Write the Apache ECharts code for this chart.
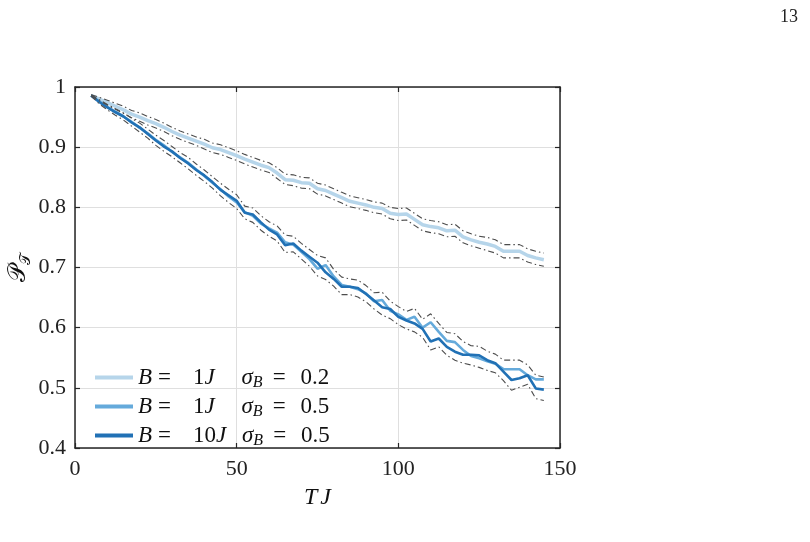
<!DOCTYPE html>
<html lang="en">
<head>
    <meta charset="UTF-8">
    <title>P_T vs TJ</title>
    <script src="https://cdn.jsdelivr.net/npm/echarts@6/dist/echarts.min.js"></script>
    <style>
        body {
            margin: 0;
            background-color: #ffffff;
        }
        #chart {
            width: 810px;
            height: 542px;
        }
    </style>
</head>
<body>
    <div id="chart"></div>

    <script>
        // TJ values (x axis)
        const tj = [5, 7.5, 10, 12.5, 15, 17.5, 20, 22.5, 25, 27.5, 30, 32.5, 35, 37.5, 40, 42.5, 45, 47.5,
            50, 52.5, 55, 57.5, 60, 62.5, 65, 67.5, 70, 72.5, 75, 77.5, 80, 82.5, 85, 87.5, 90, 92.5, 95, 97.5,
            100, 102.5, 105, 107.5, 110, 112.5, 115, 117.5, 120, 122.5, 125, 127.5, 130, 132.5, 135, 137.5,
            140, 142.5, 145];

        // B = 1J, sigma_B = 0.2
        const b1s02 = [0.986, 0.980, 0.974, 0.968, 0.962, 0.955, 0.950, 0.944, 0.939, 0.933, 0.926, 0.920, 0.915, 0.910,
            0.905, 0.899, 0.896, 0.891, 0.886, 0.880, 0.875, 0.870, 0.866, 0.857, 0.846, 0.845, 0.841, 0.840,
            0.831, 0.828, 0.822, 0.816, 0.810, 0.807, 0.804, 0.800, 0.798, 0.790, 0.788, 0.789, 0.780, 0.771,
            0.768, 0.766, 0.761, 0.762, 0.751, 0.746, 0.742, 0.739, 0.735, 0.727, 0.727, 0.727, 0.720, 0.716, 0.713];
        const b1s02Hi = [0.987, 0.983, 0.978, 0.973, 0.968, 0.961, 0.957, 0.951, 0.946, 0.940, 0.933, 0.927, 0.922, 0.917,
            0.913, 0.907, 0.904, 0.899, 0.894, 0.888, 0.883, 0.878, 0.874, 0.866, 0.855, 0.854, 0.850, 0.849,
            0.840, 0.837, 0.831, 0.825, 0.819, 0.816, 0.813, 0.809, 0.807, 0.800, 0.798, 0.799, 0.790, 0.781,
            0.778, 0.776, 0.771, 0.772, 0.761, 0.756, 0.752, 0.750, 0.746, 0.738, 0.738, 0.738, 0.731, 0.727, 0.724];
        const b1s02Lo = [0.985, 0.977, 0.970, 0.963, 0.956, 0.949, 0.943, 0.937, 0.932, 0.926, 0.919, 0.913, 0.908, 0.903,
            0.897, 0.891, 0.888, 0.883, 0.878, 0.872, 0.867, 0.862, 0.858, 0.848, 0.838, 0.836, 0.832, 0.831,
            0.822, 0.819, 0.813, 0.807, 0.801, 0.798, 0.795, 0.791, 0.789, 0.781, 0.778, 0.779, 0.770, 0.761,
            0.758, 0.756, 0.751, 0.752, 0.741, 0.736, 0.732, 0.728, 0.724, 0.716, 0.716, 0.716, 0.709, 0.705, 0.702];

        // B = 1J, sigma_B = 0.5
        const b1s05 = [0.986, 0.976, 0.967, 0.959, 0.951, 0.942, 0.932, 0.923, 0.912, 0.903, 0.892, 0.883, 0.874, 0.863,
            0.852, 0.841, 0.830, 0.818, 0.808, 0.792, 0.786, 0.773, 0.765, 0.758, 0.742, 0.738, 0.726, 0.714,
            0.698, 0.704, 0.685, 0.671, 0.668, 0.664, 0.657, 0.644, 0.646, 0.628, 0.622, 0.613, 0.618, 0.600,
            0.609, 0.593, 0.578, 0.576, 0.563, 0.553, 0.549, 0.544, 0.540, 0.531, 0.531, 0.531, 0.521, 0.514, 0.514];

        // B = 10J, sigma_B = 0.5
        const b10s05 = [0.986, 0.975, 0.966, 0.958, 0.951, 0.941, 0.933, 0.922, 0.911, 0.901, 0.893, 0.882, 0.873, 0.862,
            0.853, 0.842, 0.829, 0.820, 0.811, 0.791, 0.788, 0.775, 0.763, 0.755, 0.737, 0.740, 0.728, 0.718,
            0.708, 0.692, 0.681, 0.668, 0.668, 0.666, 0.656, 0.645, 0.634, 0.631, 0.618, 0.612, 0.607, 0.598,
            0.577, 0.582, 0.568, 0.560, 0.555, 0.555, 0.554, 0.546, 0.541, 0.527, 0.513, 0.516, 0.521, 0.499, 0.497];

        // dash-dot bounds around the sigma_B = 0.5 curves
        const s05Hi = [0.987, 0.979, 0.971, 0.964, 0.957, 0.948, 0.940, 0.930, 0.920, 0.911, 0.901, 0.891, 0.883, 0.872,
            0.862, 0.851, 0.840, 0.830, 0.821, 0.802, 0.799, 0.786, 0.776, 0.769, 0.754, 0.752, 0.740, 0.730,
            0.720, 0.716, 0.697, 0.684, 0.681, 0.679, 0.670, 0.658, 0.659, 0.644, 0.635, 0.627, 0.632, 0.614,
            0.623, 0.607, 0.592, 0.590, 0.577, 0.570, 0.569, 0.561, 0.556, 0.546, 0.546, 0.546, 0.538, 0.521, 0.518];
        const s05Lo = [0.985, 0.972, 0.962, 0.953, 0.945, 0.935, 0.925, 0.915, 0.903, 0.893, 0.884, 0.874, 0.864, 0.853,
            0.843, 0.832, 0.819, 0.808, 0.798, 0.781, 0.775, 0.762, 0.752, 0.744, 0.725, 0.726, 0.714, 0.702,
            0.686, 0.680, 0.669, 0.655, 0.655, 0.651, 0.643, 0.631, 0.621, 0.615, 0.605, 0.598, 0.593, 0.584,
            0.563, 0.568, 0.554, 0.546, 0.541, 0.538, 0.534, 0.529, 0.525, 0.512, 0.496, 0.501, 0.506, 0.482, 0.479];

        // legend text parts
        const legendB = ['1', '1', '10'];
        const legendSigma = ['0.2', '0.5', '0.5'];
        const seriesNames = ['B1s02', 'B1s05', 'B10s05'];

        const serif = 'Liberation Serif';
        const axisColor = '#262626';

        function pairs(ys) {
            return tj.map((x, i) => [x, ys[i]]);
        }

        function meanLine(name, ys, color, width, z) {
            return {
                name: name,
                type: 'line',
                data: pairs(ys),
                symbol: 'none',
                z: z,
                lineStyle: { color: color, width: width },
                itemStyle: { color: color }
            };
        }

        function boundLine(ys) {
            return {
                type: 'line',
                data: pairs(ys),
                symbol: 'none',
                silent: true,
                z: 5,
                lineStyle: { color: '#4d4d4d', width: 1.1, type: [6, 3, 1.5, 3] }
            };
        }

        var myChart = echarts.init(document.getElementById('chart'), null, { renderer: 'canvas' });

        const option = {
            backgroundColor: '#ffffff',
            animation: false,
            title: {
                text: '13',
                right: 7,
                top: 3,
                textStyle: { fontFamily: serif, fontWeight: 'normal', fontSize: 18, color: '#222' }
            },
            grid: {
                left: 75,
                right: 250,
                top: 87,
                bottom: 94,
                containLabel: false,
                outerBoundsMode: 'none'
            },
            legend: {
                data: seriesNames,
                orient: 'vertical',
                left: 90,
                top: 361,
                itemWidth: 38,
                itemHeight: 4,
                itemGap: 4.5,
                icon: 'rect',
                textStyle: {
                    fontFamily: serif,
                    fontSize: 23,
                    color: '#111',
                    rich: {
                        it: { fontFamily: serif, fontStyle: 'italic', fontSize: 23, lineHeight: 26 },
                        eq: { fontFamily: serif, fontSize: 23, lineHeight: 26, padding: [0, 22, 0, 6] },
                        eq2: { fontFamily: serif, fontSize: 23, lineHeight: 26, padding: [0, 15, 0, 10] },
                        rm: { fontFamily: serif, fontSize: 23, lineHeight: 26 },
                        ja: { fontFamily: serif, fontStyle: 'italic', fontSize: 23, lineHeight: 26, width: 37 },
                        jb: { fontFamily: serif, fontStyle: 'italic', fontSize: 23, lineHeight: 26, width: 26 },
                        sub: { fontFamily: serif, fontStyle: 'italic', fontSize: 16, lineHeight: 14, verticalAlign: 'bottom' }
                    }
                },
                formatter: function (name) {
                    const i = seriesNames.indexOf(name);
                    const j = legendB[i].length > 1 ? 'jb' : 'ja';
                    return '{it|B}{eq|=}{rm|' + legendB[i] + '}{' + j + '|J}{it|σ}{sub|B}{eq2|=}{rm|' + legendSigma[i] + '}';
                }
            },
            xAxis: [
                {
                    type: 'value',
                    min: 0,
                    max: 150,
                    interval: 50,
                    name: '{it|T}{j|J}',
                    nameLocation: 'middle',
                    nameGap: 38,
                    nameMoveOverlap: false,
                    nameTextStyle: {
                        rich: {
                            it: { fontFamily: serif, fontStyle: 'italic', fontSize: 24, color: '#111' },
                            j: { fontFamily: serif, fontStyle: 'italic', fontSize: 24, color: '#111', padding: [0, 0, 0, 3] }
                        }
                    },
                    axisLine: { onZero: false, lineStyle: { color: axisColor, width: 1.5 } },
                    axisTick: { inside: true, length: 5, lineStyle: { color: axisColor, width: 1.2 } },
                    axisLabel: { fontFamily: serif, fontSize: 22, color: '#222', margin: 10 },
                    splitLine: { lineStyle: { color: '#dfdfdf', width: 1 } }
                },
                {
                    type: 'value',
                    position: 'top',
                    min: 0,
                    max: 150,
                    interval: 50,
                    axisLine: { onZero: false, lineStyle: { color: axisColor, width: 1.5 } },
                    axisTick: { inside: true, length: 5, lineStyle: { color: axisColor, width: 1.2 } },
                    axisLabel: { show: false },
                    splitLine: { show: false }
                }
            ],
            yAxis: [
                {
                    type: 'value',
                    min: 0.4,
                    max: 1,
                    interval: 0.1,
                    name: '{p|𝒫}{t|𝒯}',
                    nameLocation: 'middle',
                    nameRotate: 90,
                    nameGap: 42,
                    nameMoveOverlap: false,
                    nameTextStyle: {
                        rich: {
                            p: { fontSize: 24, lineHeight: 30, color: '#111' },
                            t: { fontSize: 15, lineHeight: 14, verticalAlign: 'bottom', color: '#111' }
                        }
                    },
                    axisLine: { onZero: false, lineStyle: { color: axisColor, width: 1.5 } },
                    axisTick: { inside: true, length: 5, lineStyle: { color: axisColor, width: 1.2 } },
                    axisLabel: {
                        fontFamily: serif,
                        fontSize: 22,
                        color: '#222',
                        margin: 9,
                        formatter: function (v) {
                            return Number(v.toFixed(1)).toString();
                        }
                    },
                    splitLine: { lineStyle: { color: '#dfdfdf', width: 1 } }
                },
                {
                    type: 'value',
                    position: 'right',
                    min: 0.4,
                    max: 1,
                    interval: 0.1,
                    axisLine: { onZero: false, lineStyle: { color: axisColor, width: 1.5 } },
                    axisTick: { inside: true, length: 5, lineStyle: { color: axisColor, width: 1.2 } },
                    axisLabel: { show: false },
                    splitLine: { show: false }
                }
            ],
            series: [
                boundLine(b1s02Hi),
                boundLine(b1s02Lo),
                boundLine(s05Hi),
                boundLine(s05Lo),
                meanLine(seriesNames[0], b1s02, '#b6d5ea', 3.5, 3),
                meanLine(seriesNames[1], b1s05, '#65aadb', 2.6, 3),
                meanLine(seriesNames[2], b10s05, '#2171b5', 2.6, 4)
            ]
        };

        myChart.setOption(option);
    </script>
</body>
</html>
